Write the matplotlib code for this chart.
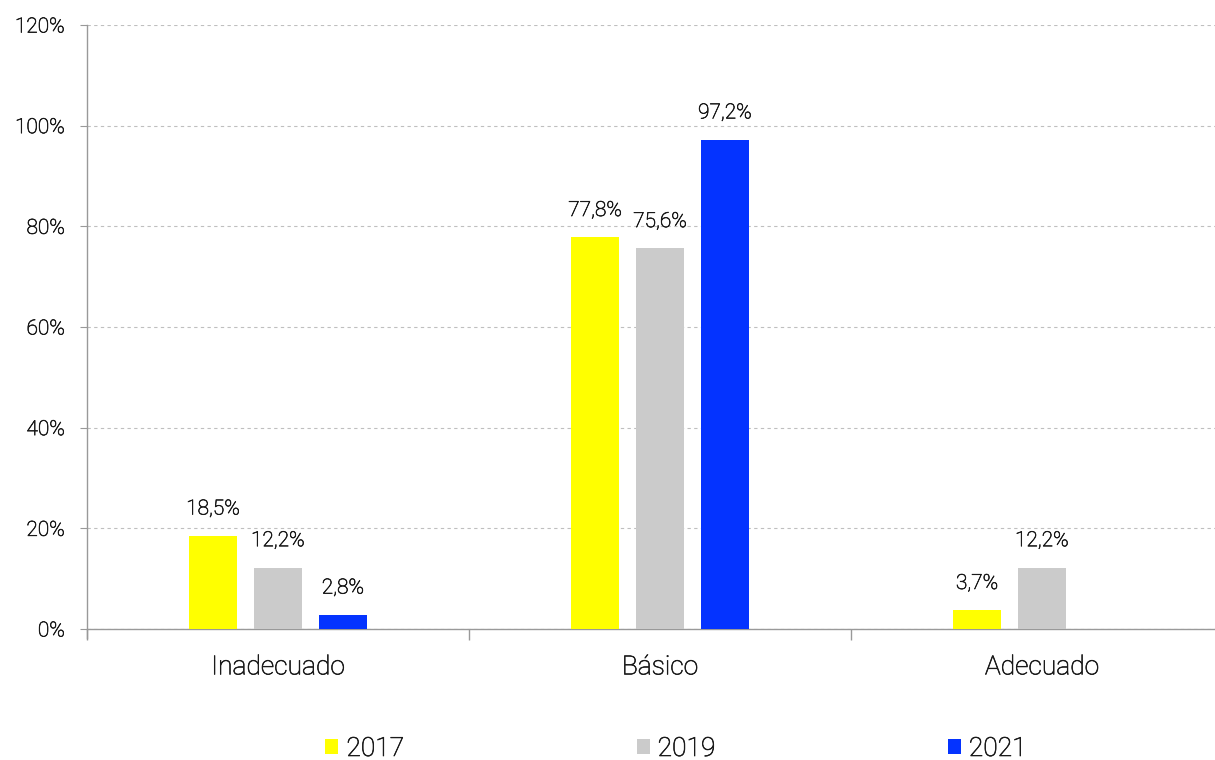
import numpy as np
import matplotlib
matplotlib.use('Agg')
import matplotlib.pyplot as plt
import matplotlib.patheffects as pe
from matplotlib.ticker import FuncFormatter

plt.rcParams['font.family'] = ['Roboto', 'DejaVu Sans']
plt.rcParams['font.weight'] = 'light'

# data
categories = ['Inadecuado', 'Básico', 'Adecuado']
years = ['2017', '2019', '2021']
values = {
    '2017': [18.5, 77.8, 3.7],
    '2019': [12.2, 75.6, 12.2],
    '2021': [2.8, 97.2, None],
}
colors = ['#FFFF00', '#CBCBCB', '#0433FF']
txt = '#1a1a1a'
# light font renders too faint, thicken it a little
thick = [pe.withStroke(linewidth=0.45, foreground=txt)]

fig = plt.figure(figsize=(12.15, 7.6), dpi=100)
ax = fig.add_axes([87/1215, 1-629/760, 1-87/1215, (629-25)/760])

x = np.arange(len(categories))
width = 0.126
step = 0.170

for i, (yr, col) in enumerate(zip(years, colors)):
    vals = values[yr]
    xs = [xi + (i-1)*step for xi, v in zip(x, vals) if v is not None]
    vs = [v for v in vals if v is not None]
    bars = ax.bar(xs, vs, width, color=col, label=yr, zorder=3)
    for b, v in zip(bars, vs):
        ax.annotate(('%.1f%%' % v).replace('.', ','),
                    (b.get_x() + b.get_width()/2, v),
                    xytext=(0, 12.5), textcoords='offset points',
                    ha='center', va='bottom', fontsize=15, color=txt,
                    path_effects=thick)

ax.set_ylim(0, 120)
ax.set_xlim(-0.5, -0.5 + 1128/382)
ax.set_yticks(np.arange(0, 121, 20))
ax.yaxis.set_major_formatter(FuncFormatter(lambda v, p: '%d%%' % v))
ax.grid(axis='y', color='#BFBFBF', linestyle=(0, (3, 3)), linewidth=0.8, zorder=0)

# category boundaries as ticks, labels at centres
ax.set_xticks([-0.5, 0.5, 1.5])
ax.set_xticklabels([])
ax.set_xticks(x, minor=True)
ax.set_xticklabels(categories, minor=True, fontsize=19, color=txt)
ax.tick_params(axis='x', which='major', length=8, color='#999999', width=1)
ax.tick_params(axis='x', which='minor', length=0, pad=19)
ax.tick_params(axis='y', length=5, color='#999999', labelsize=15,
               labelcolor=txt, pad=11)

for s in ['top', 'right']:
    ax.spines[s].set_visible(False)
for s in ['left', 'bottom']:
    ax.spines[s].set_color('#999999')
    ax.spines[s].set_linewidth(1)
ax.spines['left'].set_bounds(-1.8, 120)

leg = fig.legend(loc='center', bbox_to_anchor=(676/1215, 1-749/760), ncol=3,
                 frameon=False, fontsize=19, handlelength=0.5, handleheight=0.5,
                 handletextpad=0.3, columnspacing=8.8, labelcolor=txt)

for t in (ax.get_yticklabels() + ax.get_xticklabels(minor=True)
          + leg.get_texts()):
    t.set_path_effects(thick)

fig.savefig('out.png', dpi=100)
